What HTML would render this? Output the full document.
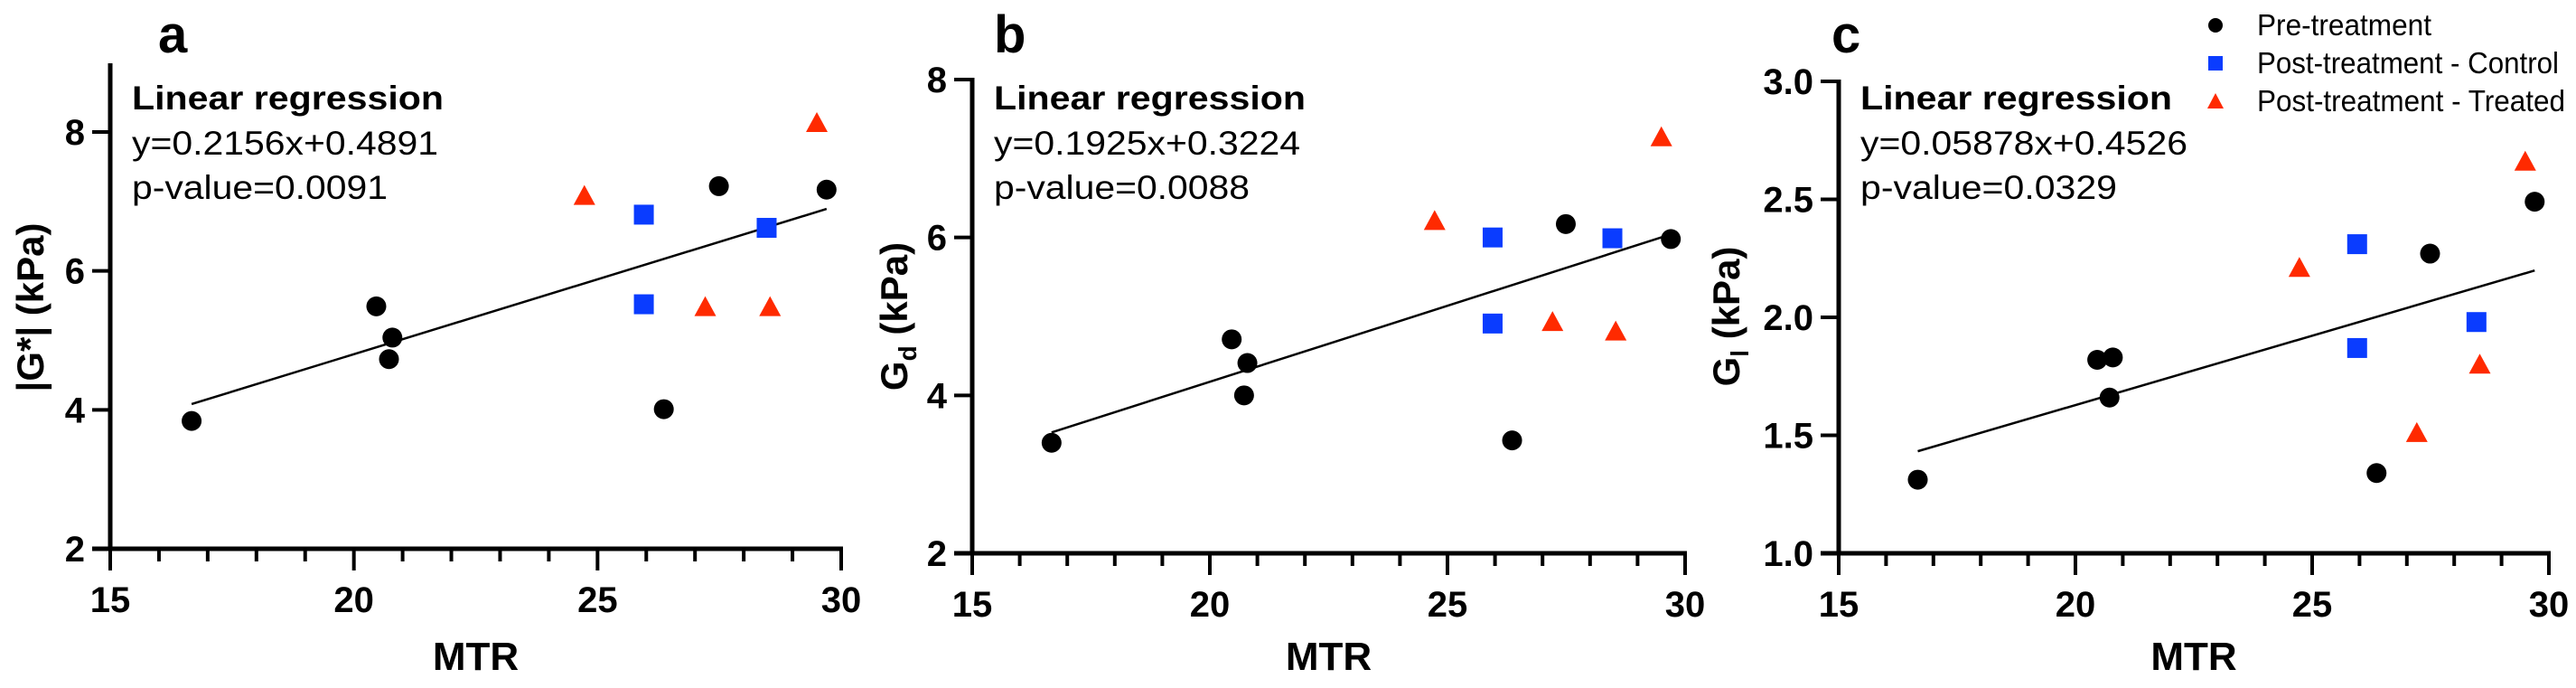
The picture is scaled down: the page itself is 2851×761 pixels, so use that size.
<!DOCTYPE html>
<html><head><meta charset="utf-8"><style>html,body{margin:0;padding:0;background:#fff;}svg{display:block;}</style></head>
<body>
<svg id="chart" xmlns="http://www.w3.org/2000/svg" width="2851" height="761" viewBox="0 0 2851 761" font-family="'Liberation Sans Narrow','Liberation Sans',sans-serif"></svg>
<script>
const preX = [16.67, 20.46, 20.79, 20.72, 26.36, 27.49, 29.7];
const ctrlX = [25.95, 25.95, 28.47];
const trtX = [24.73, 27.21, 28.54, 29.5];
const aPre = [3.84, 5.49, 5.04, 4.73, 4.01, 7.22, 7.17];
const aCtrl = [6.81, 5.52, 6.62];
const aTrt = [7.08, 5.48, 5.48, 8.13];
const bPre = [3.40, 4.71, 4.41, 4.00, 3.43, 6.17, 5.98];
const bCtrl = [6.00, 4.91, 5.99];
const bTrt = [6.21, 4.93, 4.81, 7.27];
const cPre = [1.312, 1.82, 1.83, 1.66, 1.34, 2.27, 2.49];
const cCtrl = [2.31, 1.87, 1.98];
const cTrt = [2.21, 1.51, 1.80, 2.66];
const xTicks = [15, 20, 25, 30];
const aYTicks = [2, 4, 6, 8];
const bYTicks = [2, 4, 6, 8];
const cYTicks = ["1.0", "1.5", "2.0", "2.5", "3.0"];
const regA = [0.2156, 0.4891];
const regB = [0.1925, 0.3224];
const regC = [0.05878, 0.4526];

const NS = "http://www.w3.org/2000/svg";
const svg = document.getElementById('chart');
function mk(tag, attrs, parent, txt) {
  const e = document.createElementNS(NS, tag);
  for (const k in attrs) e.setAttribute(k, attrs[k]);
  if (txt !== undefined) e.textContent = txt;
  parent.appendChild(e);
  return e;
}

function panel(cfg) {
  const g = mk('g', {}, svg);
  
  
  const sx = v => cfg.x0 + (v - 15) / 15 * (cfg.x1 - cfg.x0);
  const sy = v => cfg.yb - (v - cfg.ymin) / (cfg.ymax - cfg.ymin) * (cfg.yb - cfg.yt);
  // axes
  const ya = mk('line', {x1: cfg.x0, y1: cfg.ytop, x2: cfg.x0, y2: cfg.yb + 2, stroke: '#000', 'stroke-width': 5}, g);
  
  
  const xa = mk('line', {x1: cfg.x0 - 20, y1: cfg.yb, x2: cfg.x1 + 2, y2: cfg.yb, stroke: '#000', 'stroke-width': 5}, g);
  
  
  for (let v = 15; v <= 30; v++) {
    const major = v % 5 === 0;
    const t = mk('line', {x1: sx(v), y1: cfg.yb, x2: sx(v), y2: cfg.yb + (major ? 24 : 14), stroke: '#000', 'stroke-width': 4}, g);
    
    
  }
  xTicks.forEach(v => {
    const t = mk('text', {x: sx(v), y: cfg.yb + 70, 'text-anchor': 'middle', 'font-size': 40, 'font-weight': 'bold'}, g, String(v));
    
    
  });
  cfg.yticks.forEach(v => {
    const y = sy(parseFloat(v));
    const t = mk('line', {x1: cfg.x0 - 20, y1: y, x2: cfg.x0, y2: y, stroke: '#000', 'stroke-width': 4}, g);
    
    
    const l = mk('text', {x: cfg.x0 - 28, y: y + 14, 'text-anchor': 'end', 'font-size': 40, 'font-weight': 'bold'}, g, String(v));
    
    
  });
  const xt = mk('text', {x: (cfg.x0 + cfg.x1) / 2, y: 741, 'text-anchor': 'middle', 'font-size': 44, 'font-weight': 'bold'}, g, 'MTR');
  
  
  const yt = mk('text', {x: 0, y: 0, 'text-anchor': 'middle', 'font-size': 42, 'font-weight': 'bold', 'font-family': "'Liberation Sans',sans-serif", transform: 'translate(' + cfg.ytx + ',' + cfg.ytc + ') rotate(-90)'}, g);
  
  
  mk('tspan', {}, yt, cfg.ytitle[0]);
  if (cfg.ytitle[1]) { mk('tspan', {'font-size': 28, dy: 10}, yt, cfg.ytitle[1]); mk('tspan', {dy: -10}, yt, cfg.ytitle[2]); }
  const pl = mk('text', {x: cfg.lx, y: 58, 'font-size': 58, 'font-weight': 'bold', 'font-family': "'Liberation Sans',sans-serif"}, g, cfg.letter);
  
  
  // annotation
  const tx = cfg.x0 + 24;
  const a1 = mk('text', {x: tx, y: 121, 'font-size': 37, 'font-weight': 'bold', textLength: 345, lengthAdjust: 'spacingAndGlyphs'}, g, 'Linear regression');
  
  
  const a2 = mk('text', {x: tx, y: 171, 'font-size': 37, textLength: cfg.eqW, lengthAdjust: 'spacingAndGlyphs'}, g, 'y=' + cfg.reg[0] + 'x+' + cfg.reg[1]);
  
  
  const a3 = mk('text', {x: tx, y: 220, 'font-size': 37, textLength: cfg.pW, lengthAdjust: 'spacingAndGlyphs'}, g, 'p-value=' + cfg.p);
  
  
  // regression line
  const xa0 = Math.min(...preX), xa1 = Math.max(...preX);
  const rl = mk('line', {x1: sx(xa0), y1: sy(cfg.reg[0] * xa0 + cfg.reg[1]), x2: sx(xa1), y2: sy(cfg.reg[0] * xa1 + cfg.reg[1]), stroke: '#000', 'stroke-width': 2.5}, g);
  
  
  // points
  trtX.forEach((x, i) => {
    const cx = sx(x), cy = sy(cfg.trt[i]);
    const p = mk('polygon', {points: (cx - 12) + ',' + (cy + 10) + ' ' + (cx + 12) + ',' + (cy + 10) + ' ' + cx + ',' + (cy - 12), fill: '#ff2a00'}, g);
    
    
  });
  ctrlX.forEach((x, i) => {
    const p = mk('rect', {x: sx(x) - 11, y: sy(cfg.ctrl[i]) - 11, width: 22, height: 22, fill: '#0a3cff'}, g);
    
    
  });
  preX.forEach((x, i) => {
    const p = mk('circle', {cx: sx(x), cy: sy(cfg.pre[i]), r: 11, fill: '#000'}, g);
    
    
  });
}

panel({letter: 'a', x0: 122, x1: 931, yb: 607, yt: 146, ymin: 2, ymax: 8, ytop: 70, yticks: aYTicks,
  pre: aPre, ctrl: aCtrl, trt: aTrt, reg: regA, p: '0.0091', eqW: 339, pW: 283,
  ytitle: ['|G*| (kPa)'], ytx: 48, ytc: 340, lx: 175});
panel({letter: 'b', x0: 1076, x1: 1865, yb: 612, yt: 88, ymin: 2, ymax: 8, ytop: 86, yticks: bYTicks,
  pre: bPre, ctrl: bCtrl, trt: bTrt, reg: regB, p: '0.0088', eqW: 339, pW: 283,
  ytitle: ['G', 'd', ' (kPa)'], ytx: 1004, ytc: 350, lx: 1100});
panel({letter: 'c', x0: 2035, x1: 2821, yb: 612, yt: 90, ymin: 1, ymax: 3, ytop: 88, yticks: cYTicks,
  pre: cPre, ctrl: cCtrl, trt: cTrt, reg: regC, p: '0.0329', eqW: 362, pW: 284,
  ytitle: ['G', 'l', ' (kPa)'], ytx: 1925, ytc: 350, lx: 2027});

// legend
const lg = mk('g', {}, svg);


const legendLabels = ['Pre-treatment', 'Post-treatment - Control', 'Post-treatment - Treated'];
const legendW = [193, 334, 341];
[28, 70, 112].forEach((y, i) => {
  const e = mk('g', {}, lg);
  
  
  if (i === 0) mk('circle', {cx: 2452, cy: y, r: 8, fill: '#000'}, e);
  if (i === 1) mk('rect', {x: 2444, y: y - 8, width: 16, height: 16, fill: '#0a3cff'}, e);
  if (i === 2) mk('polygon', {points: '2443,' + (y + 8) + ' 2461,' + (y + 8) + ' 2452,' + (y - 9), fill: '#ff2a00'}, e);
  mk('text', {x: 2498, y: y + 11, 'font-size': 33, textLength: legendW[i], lengthAdjust: 'spacingAndGlyphs'}, e, legendLabels[i]);
});
</script>
</body></html>
